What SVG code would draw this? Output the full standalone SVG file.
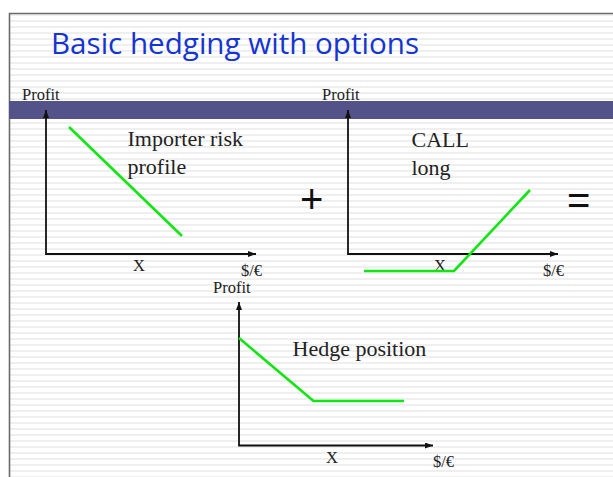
<svg xmlns="http://www.w3.org/2000/svg" width="613" height="477" viewBox="0 0 613 477">
  <defs>
    <pattern id="stripes" x="0" y="0" width="10" height="6" patternUnits="userSpaceOnUse">
      <rect x="0" y="0" width="10" height="6" fill="#ffffff"/>
      <rect x="0" y="2" width="10" height="2" fill="#efefef"/>
    </pattern>
    <marker id="arr" viewBox="0 0 8 6" refX="8" refY="3" markerWidth="8" markerHeight="6" markerUnits="userSpaceOnUse" orient="auto-start-reverse">
      <path d="M0,0 L8,3 L0,6 z" fill="#111"/>
    </marker>
  </defs>
  <style>
    .axis { fill: none; stroke: #111; stroke-width: 1.8; marker-start: url(#arr); marker-end: url(#arr); }
    .curve { fill: none; stroke: #12e612; stroke-width: 2.6; stroke-linejoin: miter; }
    .lbl { font-family: "Liberation Serif", "Times New Roman", serif; fill: #222; }
    .small { font-size: 16.5px; }
    .big { font-size: 22px; }
    .op { font-family: "Liberation Sans", Arial, sans-serif; font-size: 40px; fill: #111; }
  </style>

  <g id="background">
    <rect x="0" y="0" width="613" height="477" fill="#ffffff"/>
    <rect x="9" y="13" width="604" height="464" fill="url(#stripes)"/>
    <path d="M9.5,477 L9.5,13.5 L613,13.5" fill="none" stroke="#6b6b6b" stroke-width="1.6"/>
    <rect x="9" y="101" width="604" height="18" fill="#53538a"/>
  </g>

  <g id="title">
    <text x="51" y="54" font-family="'Open Sans', 'Noto Sans', sans-serif" font-size="29.5" fill="#1535d2" textLength="368" lengthAdjust="spacingAndGlyphs">Basic hedging with options</text>
  </g>

  <g id="chart-importer">
    <text class="lbl small" x="22" y="100">Profit</text>
    <path class="axis" d="M46,110 L46,254 L256,254"/>
    <path class="curve" d="M69,127 L182,236"/>
    <text class="lbl big" x="127.5" y="145.5">Importer risk</text>
    <text class="lbl big" x="127.5" y="174">profile</text>
    <text class="lbl small" x="133" y="271">X</text>
    <text class="lbl small" x="241" y="276">$/€</text>
  </g>

  <g id="plus">
    <text class="op" x="300" y="213">+</text>
  </g>

  <g id="chart-call">
    <text class="lbl small" x="322" y="100">Profit</text>
    <path class="axis" d="M348,110 L348,254 L558,254"/>
    <text class="lbl big" x="411.5" y="146.5">CALL</text>
    <text class="lbl big" x="411.5" y="175">long</text>
    <text class="lbl small" x="434" y="271">X</text>
    <path class="curve" d="M364,271 L454,271 L530,190"/>
    <text class="lbl small" x="543" y="276">$/€</text>
  </g>

  <g id="equals">
    <text class="op" x="567" y="214">=</text>
  </g>

  <g id="chart-hedge">
    <text class="lbl small" x="213" y="292.5">Profit</text>
    <path class="axis" d="M239,302 L239,445.5 L433,445.5"/>
    <path class="curve" d="M239,338 L313.5,401 L404,401"/>
    <text class="lbl big" x="292.5" y="355.5">Hedge position</text>
    <text class="lbl small" x="326" y="462.5">X</text>
    <text class="lbl small" x="433" y="467">$/€</text>
  </g>
</svg>
